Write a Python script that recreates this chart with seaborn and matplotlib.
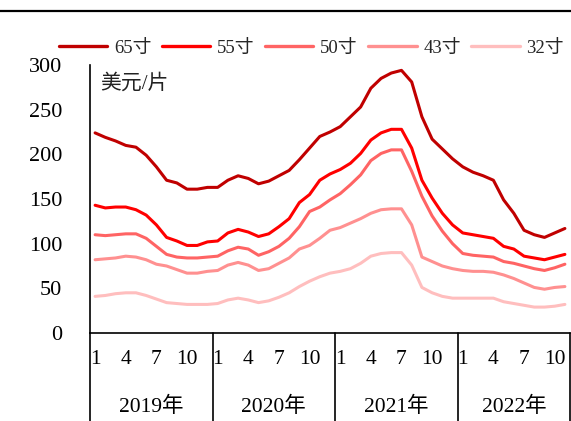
import matplotlib
matplotlib.use("Agg")
import matplotlib.pyplot as plt
import numpy as np
import pandas as pd
import seaborn as sns
from matplotlib.lines import Line2D

# Monthly LCD TV panel prices (USD per panel), Jan 2019 - Nov 2022
years = ["2019年", "2020年", "2021年", "2022年"]
month_ticks = ["1", "4", "7", "10"]
sizes = ["65寸", "55寸", "50寸", "43寸", "32寸"]
colors = ["#C00000", "#FF0000", "#FF6464", "#FF9090", "#FFBEBE"]

p65 = [224, 219, 215, 210, 208, 199, 186, 171, 168, 161, 161, 163,
       163, 171, 176, 173, 167, 170, 176, 182, 194, 207, 220, 225,
       231, 242, 253, 274, 285, 291, 294, 281, 242, 217, 206, 195,
       186, 180, 176, 171, 149, 134, 115, 110, 107, 112, 117]
p55 = [143, 140, 141, 141, 138, 132, 121, 107, 103, 98, 98, 102,
       103, 112, 116, 113, 108, 111, 119, 128, 146, 155, 171, 178,
       183, 190, 201, 216, 224, 228, 228, 207, 171, 151, 134, 121,
       112, 110, 108, 106, 97, 94, 86, 84, 82, 85, 88]
p50 = [110, 109, 110, 111, 111, 106, 97, 88, 85, 84, 84, 85,
       86, 92, 96, 94, 87, 91, 97, 106, 119, 136, 141, 149,
       156, 166, 177, 193, 201, 205, 205, 181, 153, 131, 114, 100,
       89, 87, 86, 85, 80, 78, 75, 72, 70, 73, 77]
p43 = [82, 83, 84, 86, 85, 82, 77, 75, 71, 67, 67, 69,
       70, 76, 79, 76, 70, 72, 78, 84, 94, 98, 106, 115,
       118, 123, 128, 134, 138, 139, 139, 121, 85, 80, 75, 72,
       70, 69, 69, 68, 65, 61, 56, 51, 49, 51, 52]
p32 = [41, 42, 44, 45, 45, 42, 38, 34, 33, 32, 32, 32,
       33, 37, 39, 37, 34, 36, 40, 45, 52, 58, 63, 67,
       69, 72, 78, 86, 89, 90, 90, 76, 51, 45, 41, 39,
       39, 39, 39, 39, 35, 33, 31, 29, 29, 30, 32]

series = [p65, p55, p50, p43, p32]
n = len(p65)
df = pd.concat(
    [pd.DataFrame({"idx": np.arange(n), "price": vals, "size": name})
     for name, vals in zip(sizes, series)],
    ignore_index=True,
)

sns.set_style("white")
plt.rcParams["font.family"] = ["Liberation Serif", "Noto Sans CJK SC", "DejaVu Sans"]

fig = plt.figure(figsize=(5.71, 4.21), dpi=100)
ax = fig.add_axes([90 / 571, 1 - 333 / 421, 480 / 571, 268 / 421])

sns.lineplot(data=df, x="idx", y="price", hue="size", hue_order=sizes,
             palette=dict(zip(sizes, colors)), linewidth=2.2, ax=ax,
             legend=True)

handles, labels = ax.get_legend_handles_labels()
ax.get_legend().remove()
for h in handles:
    h.set_linewidth(2.4)
fig.legend(handles, labels, loc="center", bbox_to_anchor=(0.545, 0.886),
           ncol=5, frameon=False, fontsize=13.5, handlelength=2.6,
           handletextpad=0.35, columnspacing=0.55, borderaxespad=0)

ax.set_xlim(-0.5, n - 0.5)
ax.set_ylim(0, 300)
ax.set_yticks(range(0, 301, 50))
ax.set_xlabel("")
ax.set_ylabel("")

# month ticks inside each year block
tick_pos, tick_lab = [], []
for y in range(len(years)):
    for m in month_ticks:
        pos = 12 * y + int(m) - 1
        if pos < n:
            tick_pos.append(pos)
            tick_lab.append(m)
ax.set_xticks(tick_pos)
ax.set_xticklabels(tick_lab)
ax.tick_params(axis="x", length=0, pad=12, labelsize=15.5, colors="black")
ax.tick_params(axis="y", length=0, pad=20, labelsize=16, colors="black")

for side in ["top", "right"]:
    ax.spines[side].set_visible(False)
for side in ["left", "bottom"]:
    ax.spines[side].set_color("black")
    ax.spines[side].set_linewidth(1.2)

# year block separators and year labels below the axis
trans = ax.get_xaxis_transform()
bounds = [-0.5, 11.5, 23.5, 35.5, n - 0.5]
for b in bounds:
    ax.plot([b, b], [0, -0.34], transform=trans, color="black", lw=1.2,
            clip_on=False)
for i, name in enumerate(years):
    cx = (bounds[i] + bounds[i + 1]) / 2
    ax.text(cx, -0.275, name, transform=trans, ha="center", va="center",
            fontsize=15.5, color="black")

ax.text(0.021, 0.928, "美元/片", transform=ax.transAxes, ha="left",
        va="center", fontsize=15, color="#222222")

# rule under the heading
fig.add_artist(Line2D([0, 1], [1 - 11 / 421] * 2, transform=fig.transFigure,
                      color="black", lw=1.6))

fig.savefig("out.png", dpi=100)
